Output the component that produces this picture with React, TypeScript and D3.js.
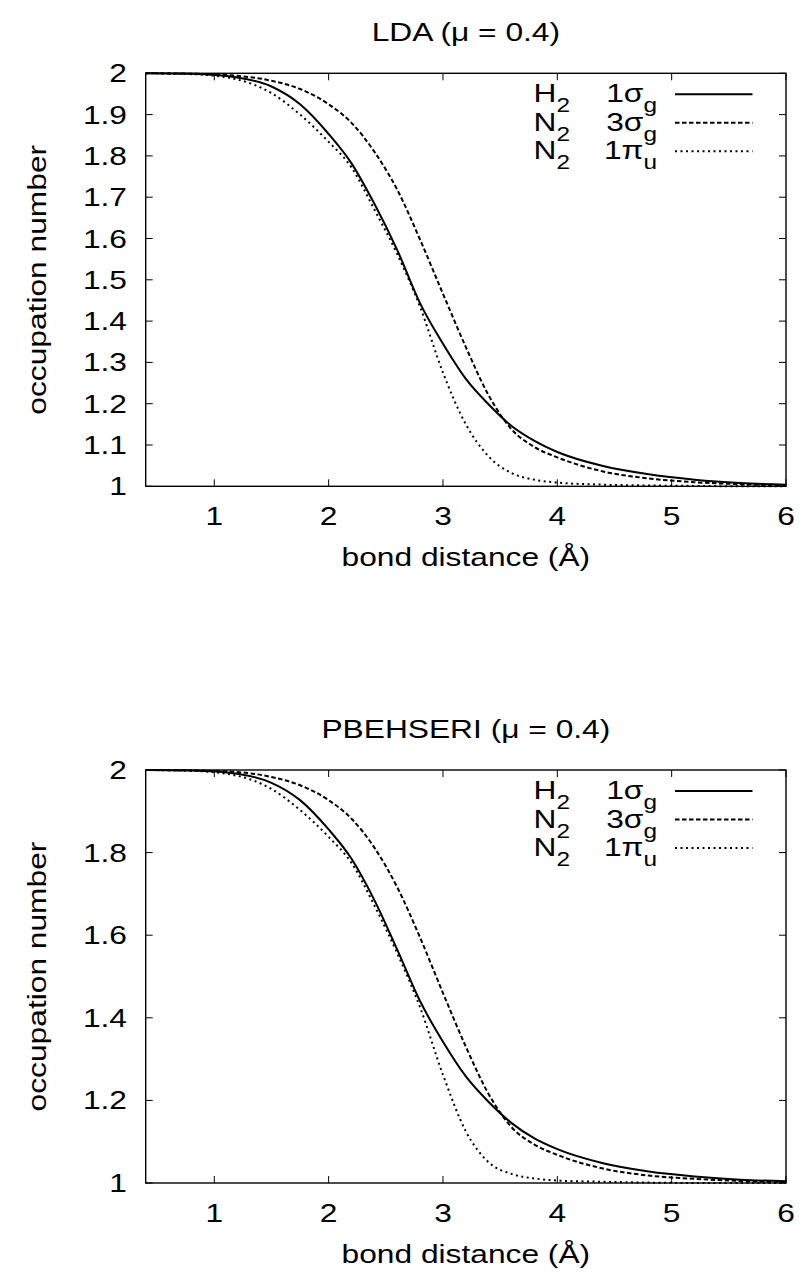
import React from "react";
import * as d3 from "d3";

// bond distances (Å) where the curves were read
const bondX = [0.4, 0.8, 1.2, 1.5, 1.75, 2.0, 2.2, 2.4, 2.6, 2.8, 3.0, 3.2, 3.4, 3.6, 3.8, 4.0, 4.4, 4.8, 5.2, 5.6, 6.0];

// LDA panel
const ldaH2Sg = [2.0, 1.999, 1.99, 1.968, 1.925, 1.853, 1.782, 1.684, 1.572, 1.443, 1.345, 1.26, 1.198, 1.146, 1.11, 1.083, 1.049, 1.029, 1.016, 1.008, 1.004];
const ldaN2Sg = [2.0, 1.999, 1.994, 1.982, 1.962, 1.925, 1.88, 1.81, 1.718, 1.597, 1.466, 1.337, 1.22, 1.138, 1.095, 1.07, 1.036, 1.019, 1.01, 1.005, 1.002];
const ldaN2Pu = [2.0, 1.998, 1.985, 1.952, 1.9, 1.834, 1.772, 1.67, 1.562, 1.434, 1.275, 1.15, 1.072, 1.032, 1.016, 1.009, 1.004, 1.002, 1.001, 1.0, 1.0];

// PBEHSERI panel
const pbeH2Sg = [2.0, 1.999, 1.991, 1.969, 1.927, 1.856, 1.785, 1.685, 1.565, 1.44, 1.342, 1.258, 1.196, 1.145, 1.108, 1.082, 1.048, 1.028, 1.016, 1.008, 1.004];
const pbeN2Sg = [2.0, 1.999, 1.995, 1.983, 1.963, 1.927, 1.882, 1.812, 1.716, 1.594, 1.46, 1.33, 1.215, 1.135, 1.093, 1.068, 1.035, 1.018, 1.01, 1.005, 1.002];
const pbeN2Pu = [2.0, 1.998, 1.986, 1.954, 1.903, 1.838, 1.775, 1.672, 1.556, 1.425, 1.262, 1.125, 1.05, 1.022, 1.011, 1.006, 1.003, 1.001, 1.0, 1.0, 1.0];

const xTicks = [1, 2, 3, 4, 5, 6];
const ldaYTicks = [1, 1.1, 1.2, 1.3, 1.4, 1.5, 1.6, 1.7, 1.8, 1.9, 2];
const pbeYTicks = [1, 1.2, 1.4, 1.6, 1.8, 2];

const legendMol = ["H", "N", "N"];
const legendMolSub = ["2", "2", "2"];
const legendOrb = ["1σ", "3σ", "1π"];
const legendOrbSub = ["g", "g", "u"];
const dashes = ["none", "4.5,2.5", "2,3.5"];

const FONT = "'Liberation Sans', Arial, Helvetica, sans-serif";
const FS = 26;
const SX = 1.22; // the reference glyphs are wide for their height

// text with a horizontal stretch along its own direction
const T = ({ x, y, rot = 0, anchor = "start", children }: any) => (
  <text
    transform={`translate(${x},${y}) rotate(${rot}) scale(${SX},1)`}
    fontSize={FS}
    textAnchor={anchor}
  >
    {children}
  </text>
);

type PanelProps = {
  top: number;
  title: string;
  yTicks: number[];
  series: number[][];
};

const Panel = ({ top, title, yTicks, series }: PanelProps) => {
  const left = 145.7;
  const right = 786;
  const bottom = top + 413;
  const x = d3.scaleLinear().domain([0.4, 6]).range([left, right]);
  const y = d3.scaleLinear().domain([1, 2]).range([bottom, top]);
  const line = d3
    .line<number>()
    .x((_, i) => x(bondX[i]))
    .y((d) => y(d))
    .curve(d3.curveMonotoneX);
  const tl = 7;
  const fmt = (v: number) => String(+v.toFixed(1));

  return (
    <g fontFamily={FONT} fill="#000">
      <T x={(left + right) / 2} y={top - 32} anchor="middle">
        {title}
      </T>
      {series.map((s, i) => (
        <path
          key={i}
          d={line(s) ?? ""}
          fill="none"
          stroke="#000"
          strokeWidth={2}
          strokeDasharray={dashes[i]}
        />
      ))}
      {/* frame */}
      <rect x={left} y={top} width={right - left} height={bottom - top} fill="none" stroke="#000" strokeWidth={1.4} />
      {xTicks.map((t) => (
        <g key={"x" + t}>
          <line x1={x(t)} x2={x(t)} y1={bottom} y2={bottom - tl} stroke="#000" strokeWidth={1} />
          <line x1={x(t)} x2={x(t)} y1={top} y2={top + tl} stroke="#000" strokeWidth={1} />
          <T x={x(t)} y={bottom + 39} anchor="middle">
            {t}
          </T>
        </g>
      ))}
      {yTicks.map((t) => (
        <g key={"y" + t}>
          <line x1={left} x2={left + tl} y1={y(t)} y2={y(t)} stroke="#000" strokeWidth={1} />
          <line x1={right} x2={right - tl} y1={y(t)} y2={y(t)} stroke="#000" strokeWidth={1} />
          <T x={127} y={y(t) + 9} anchor="end">
            {fmt(t)}
          </T>
        </g>
      ))}
      <T x={(left + right) / 2} y={bottom + 80} anchor="middle">
        bond distance (Å)
      </T>
      <T x={46} y={(top + bottom) / 2} rot={-90} anchor="middle">
        occupation number
      </T>
      {legendMol.map((m, i) => {
        const ly = top + 21 + i * 28.5;
        return (
          <g key={"l" + i}>
            <T x={570} y={ly + 8} anchor="end">
              {m}
              <tspan fontSize={20} dy={10}>
                {legendMolSub[i]}
              </tspan>
            </T>
            <T x={657} y={ly + 8} anchor="end">
              {legendOrb[i]}
              <tspan fontSize={20} dy={10}>
                {legendOrbSub[i]}
              </tspan>
            </T>
            <line
              x1={675}
              x2={752.5}
              y1={ly}
              y2={ly}
              stroke="#000"
              strokeWidth={2}
              strokeDasharray={dashes[i]}
            />
          </g>
        );
      })}
    </g>
  );
};

export default function App() {
  return (
    <svg
      width={805}
      height={1276}
      style={{ position: "absolute", left: 0, top: 0, background: "#fff" }}
    >
      <rect width={805} height={1276} fill="#fff" />
      <Panel top={73.3} title="LDA (μ = 0.4)" yTicks={ldaYTicks} series={[ldaH2Sg, ldaN2Sg, ldaN2Pu]} />
      <Panel top={770} title="PBEHSERI (μ = 0.4)" yTicks={pbeYTicks} series={[pbeH2Sg, pbeN2Sg, pbeN2Pu]} />
    </svg>
  );
}
